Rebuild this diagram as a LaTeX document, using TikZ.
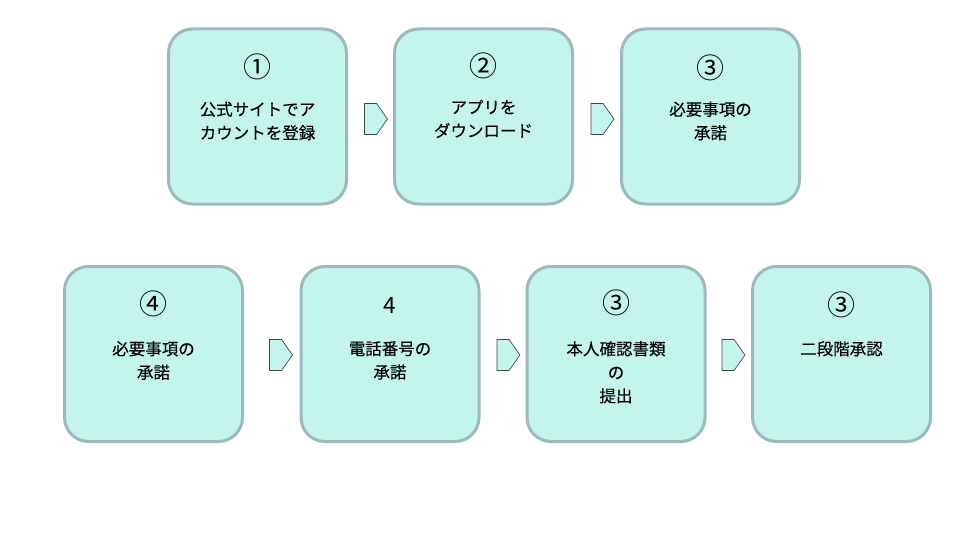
\documentclass[tikz,border=0pt]{standalone}
\usepackage{fontspec}
\setmainfont{Noto Sans CJK JP}[FakeBold=0.15]
\newfontfamily\circfont{Noto Sans CJK JP}
\usetikzlibrary{shapes.symbols,positioning}
\definecolor{boxfill}{HTML}{C3F5EC}
\definecolor{boxline}{HTML}{9CB9BD}
\definecolor{arrline}{HTML}{3F4A4A}
\tikzset{
  stepbox/.style={draw=boxline, line width=3pt, fill=boxfill, rounded corners=24pt,
    minimum width=178pt, minimum height=175pt, inner sep=0pt},
  numtext/.style={font=\circfont\fontsize{28}{30}\selectfont, inner sep=0pt, anchor=center},
  digtext/.style={font=\circfont\fontsize{22.5}{24}\selectfont, inner sep=0pt, anchor=center},
  bodytext/.style={font=\fontsize{16.5}{23.5}\selectfont, inner sep=0pt, anchor=north, align=center},
  chev/.style={signal, signal to=east, signal pointer angle=110, draw=arrline, line width=0.7pt,
    fill=boxfill, minimum width=23pt, minimum height=31pt, inner sep=0pt}
}
\begin{document}
\begin{tikzpicture}[x=1pt,y=-1pt]
\useasboundingbox (0,0) rectangle (960,540);
% row 1
\node[stepbox] (b1) at (257.5,116.5) {};
\node[stepbox] (b2) at (483.5,116.5) {};
\node[stepbox] (b3) at (710.5,116.5) {};
% row 2
\node[stepbox] (b4) at (153.5,354) {};
\node[stepbox] (b5) at (390,354) {};
\node[stepbox] (b6) at (616,354) {};
\node[stepbox] (b7) at (841.5,354) {};
% arrows
\node[chev] (a1) at (370.5,119) {};
\node[chev] (a2) at (597,119) {};
\node[chev] (a3) at (275.5,355) {};
\node[chev] (a4) at (503,355) {};
\node[chev] (a5) at (728,355) {};
% numbers
\node[numtext] (n1) at ([yshift=-39pt]b1.north) {①};
\node[numtext] (n2) at ([yshift=-38pt]b2.north) {②};
\node[numtext] (n3) at ([yshift=-40pt]b3.north) {③};
\node[numtext] (n4) at ([yshift=-39pt]b4.north) {④};
\node[digtext] (n5) at ([yshift=-40pt]b5.north) {4};
\node[numtext] (n6) at ([yshift=-38pt]b6.north) {③};
\node[numtext] (n7) at ([yshift=-40pt]b7.north) {③};
% texts
\node[bodytext] (t1) at ([yshift=-74pt]b1.north) {公式サイトでア\\カウントを登録};
\node[bodytext] (t2) at ([yshift=-72pt]b2.north) {アプリを\\ダウンロード};
\node[bodytext] (t3) at ([yshift=-74pt]b3.north) {必要事項の\\承諾};
\node[bodytext] (t4) at ([yshift=-76pt]b4.north) {必要事項の\\承諾};
\node[bodytext] (t5) at ([yshift=-76pt]b5.north) {電話番号の\\承諾};
\node[bodytext] (t6) at ([yshift=-76pt]b6.north) {本人確認書類\\の\\提出};
\node[bodytext] (t7) at ([yshift=-76pt]b7.north) {二段階承認};
\end{tikzpicture}
\end{document}
